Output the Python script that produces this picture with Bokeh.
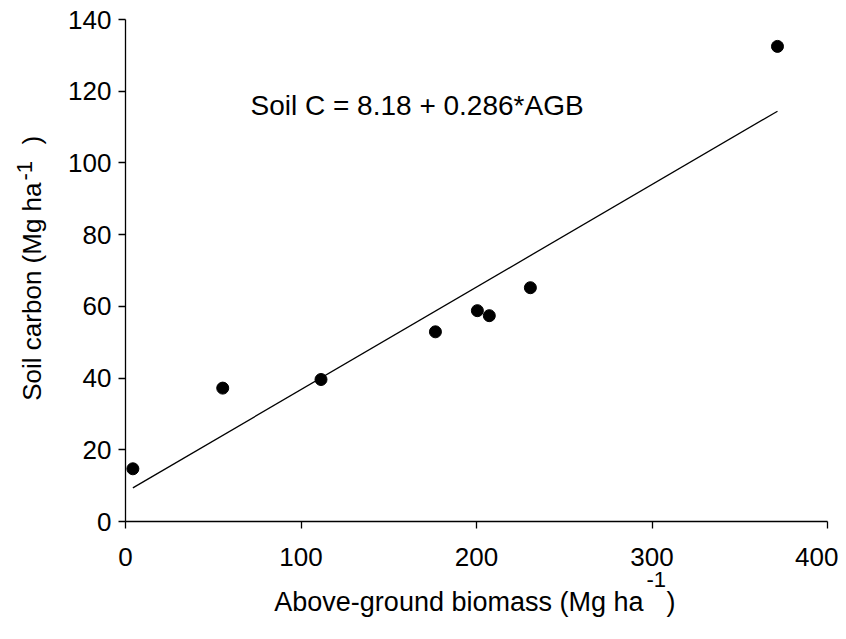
import math
from bokeh.plotting import figure
from bokeh.models import Label, Range1d, FixedTicker, LinearAxis
from bokeh.embed import file_html
from bokeh.resources import INLINE

# Data
agb = [4.2, 55.4, 111.4, 176.6, 200.5, 207.3, 230.7, 371.5]
soil_c = [14.7, 37.2, 39.6, 52.9, 58.8, 57.4, 65.2, 132.5]
intercept = 8.18
slope = 0.286
x_ticks = [0, 100, 200, 300, 400]
y_ticks = [0, 20, 40, 60, 80, 100, 120, 140]
equation = "Soil C = 8.18 + 0.286*AGB"
x_label = "Above-ground biomass (Mg ha"
y_label = "Soil carbon (Mg ha"
sup_text = "-1"

FONT = "Liberation Sans"

# canvas geometry (pixels): axes box from (125, 19) to (827, 521)
W, H = 838, 628
L, T, R, B = 125, 19, 827, 521
xs = (R - L) / 400.0
ys = (B - T) / 140.0
x0, x1 = -L / xs, 400 + (W - R) / xs
y0, y1 = -(H - B) / ys, 140 + T / ys

p = figure(width=W, height=H, output_backend="svg", toolbar_location=None,
           x_range=Range1d(x0, x1), y_range=Range1d(y0, y1),
           x_axis_location=None, y_axis_location=None,
           min_border=0)
p.outline_line_color = None
p.xgrid.visible = False
p.ygrid.visible = False
p.background_fill_color = "white"
p.border_fill_color = "white"

xa = LinearAxis(fixed_location=0, bounds=(0, 400), ticker=FixedTicker(ticks=x_ticks))
ya = LinearAxis(fixed_location=0, bounds=(0, 140), ticker=FixedTicker(ticks=y_ticks))
for ax in (xa, ya):
    ax.major_tick_out = 7
    ax.major_tick_in = 0
    ax.minor_tick_line_color = None
    ax.axis_line_width = 1.3
    ax.major_tick_line_width = 1.3
    ax.axis_line_color = "black"
    ax.major_tick_line_color = "black"
    ax.major_label_text_font = FONT
    ax.major_label_text_font_size = "26px"
    ax.major_label_text_color = "black"
xa.major_label_standoff = 19
ya.major_label_standoff = 7
p.add_layout(xa, "below")
p.add_layout(ya, "left")

# regression line from the equation
xl = [min(agb), max(agb)]
yl = [intercept + slope * v for v in xl]
p.line(xl, yl, line_color="black", line_width=1.3)

p.scatter(agb, soil_c, marker="circle", size=12, fill_color="black", line_color="black")

def lab(text, xo, yo, size, align="left", baseline="alphabetic", angle=0):
    p.add_layout(Label(x=0, y=0, x_units="data", y_units="data", x_offset=xo, y_offset=yo,
                       text=text, text_font=FONT, text_font_size=size, text_color="black",
                       text_align=align, text_baseline=baseline, angle=angle))

# equation
lab(equation, 125, 416, "28px", baseline="middle")

# x axis label
lab(x_label, 518, -80, "27px", align="right")
lab(sup_text, 521, -58, "22px")
lab(")", 541, -80, "27px")

# y axis label (rotated)
lab(y_label, -94, 339, "26px", align="right", angle=math.pi / 2)
lab(sup_text, -101, 341, "22px", align="left", angle=math.pi / 2)
lab(")", -94, 377, "26px", align="left", angle=math.pi / 2)

open("out.html", "w").write(file_html(p, INLINE))
